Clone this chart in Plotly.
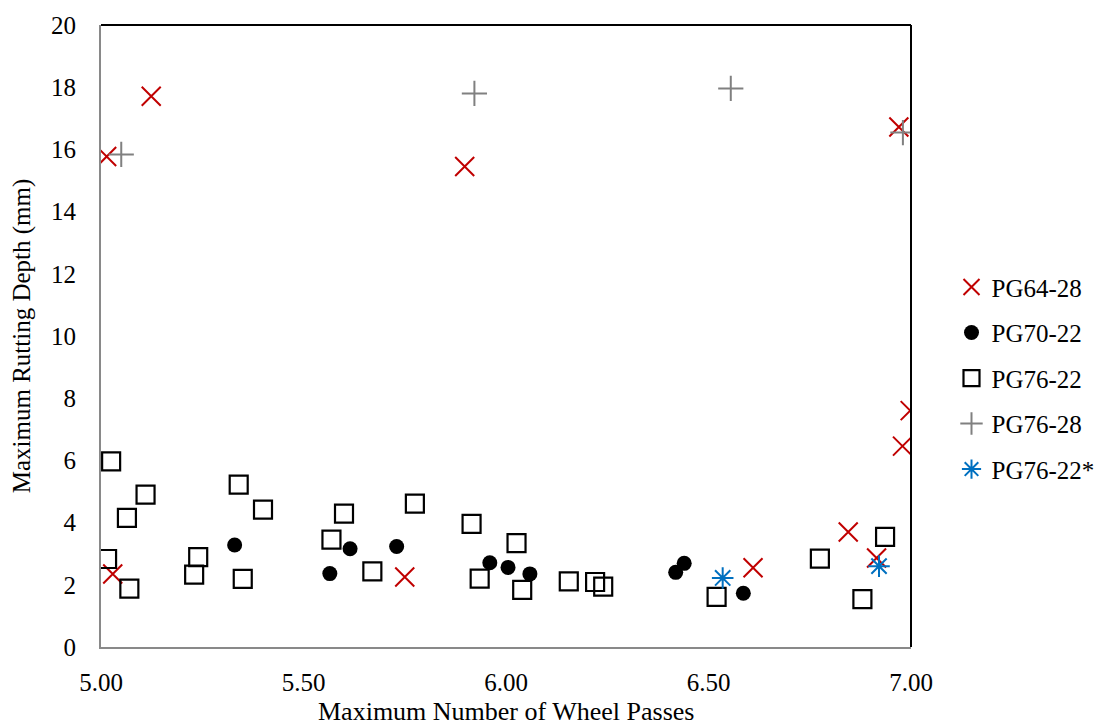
import plotly.graph_objects as go

# PG64-28
pg6428_x = [5.014, 5.124, 5.029, 5.750, 5.898, 6.610, 6.845, 6.915, 6.970, 6.979, 6.998]
pg6428_y = [15.77, 17.71, 2.35, 2.25, 15.45, 2.55, 3.70, 2.86, 16.72, 6.46, 7.60]

# PG70-22
pg7022_x = [5.330, 5.565, 5.615, 5.730, 5.960, 6.005, 6.059, 6.419, 6.440, 6.586]
pg7022_y = [3.28, 2.36, 3.16, 3.23, 2.71, 2.56, 2.35, 2.40, 2.69, 1.73]

# PG76-22
pg7622_x = [5.025, 5.110, 5.064, 5.015, 5.070, 5.240, 5.230, 5.340, 5.400, 5.350,
            5.600, 5.569, 5.670, 5.775, 5.915, 5.935, 6.026, 6.040, 6.155, 6.220,
            6.240, 6.520, 6.775, 6.936, 6.880]
pg7622_y = [5.97, 4.90, 4.15, 2.83, 1.88, 2.89, 2.33, 5.22, 4.42, 2.19,
            4.29, 3.45, 2.43, 4.61, 3.96, 2.20, 3.34, 1.84, 2.11, 2.09,
            1.94, 1.61, 2.84, 3.54, 1.54]

# PG76-28
pg7628_x = [5.050, 5.922, 6.555, 6.980]
pg7628_y = [15.84, 17.80, 17.96, 16.54]

# PG76-22*
pg7622s_x = [6.535, 6.921]
pg7622s_y = [2.22, 2.60]

font_family = "Liberation Serif"

fig = go.Figure()
fig.add_trace(go.Scatter(
    x=pg6428_x, y=pg6428_y, mode="markers", name="PG64-28", legendgroup="a",
    marker=dict(symbol="x-thin-open", size=19, color="#C00000",
                line=dict(width=2, color="#C00000"))
))
fig.add_trace(go.Scatter(
    x=pg7022_x, y=pg7022_y, mode="markers", name="PG70-22", legendgroup="b",
    marker=dict(symbol="circle", size=15, color="black")
))
fig.add_trace(go.Scatter(
    x=pg7622_x, y=pg7622_y, mode="markers", name="PG76-22", legendgroup="c",
    marker=dict(symbol="square-open", size=18, color="black",
                line=dict(width=2.2, color="black"))
))
fig.add_trace(go.Scatter(
    x=pg7628_x, y=pg7628_y, mode="markers", name="PG76-28", legendgroup="d",
    marker=dict(symbol="cross-thin-open", size=18, color="#808080",
                line=dict(width=2, color="#808080"))
))
fig.add_trace(go.Scatter(
    x=pg7622s_x, y=pg7622s_y, mode="markers", name="PG76-22*", legendgroup="e",
    marker=dict(symbol="asterisk-open", size=18, color="#0070C0",
                line=dict(width=2, color="#0070C0"))
))

fig.update_layout(
    width=1104, height=726,
    margin=dict(l=93, r=201, t=17, b=87, autoexpand=False),
    paper_bgcolor="white", plot_bgcolor="white",
    font=dict(family=font_family, size=25, color="black"),
    showlegend=True,
    legend=dict(x=1.05, y=0.432, xanchor="left", yanchor="middle",
                tracegroupgap=10, font=dict(family=font_family, size=25)),
    xaxis=dict(range=[5, 7], tickvals=[5, 5.5, 6, 6.5, 7], tickformat=".2f",
               showgrid=False, zeroline=False, showline=True,
               linecolor="#898989", linewidth=2, ticks="", ticklabelstandoff=12),
    yaxis=dict(range=[0, 20], dtick=2, showgrid=False, zeroline=False,
               showline=True, linecolor="#898989", linewidth=2, ticks="",
               ticklabelstandoff=18,
               title=dict(text="Maximum Rutting Depth (mm)", standoff=20,
                          font=dict(size=25))),
    annotations=[
        dict(text="Maximum Number of Wheel Passes", xref="paper", yref="paper",
             x=0.5, y=-0.1035, xanchor="center", yanchor="middle",
             showarrow=False, font=dict(size=26)),
    ],
    shapes=[
        dict(type="line", xref="paper", yref="paper", x0=0, x1=1, y0=1, y1=1,
             line=dict(color="black", width=2)),
        dict(type="line", xref="paper", yref="paper", x0=1, x1=1, y0=0, y1=1,
             line=dict(color="black", width=2)),
    ],
)

fig.write_html("out.html")
